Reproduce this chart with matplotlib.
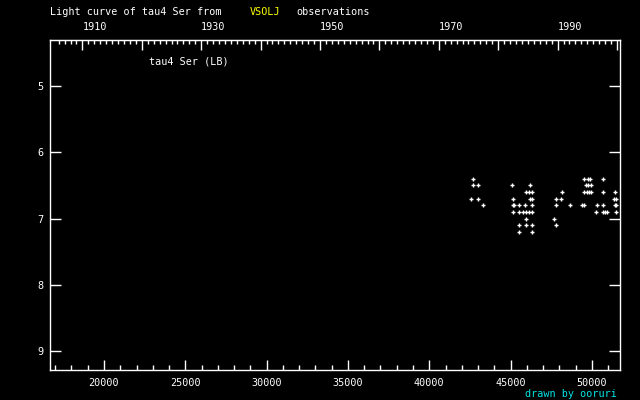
import matplotlib
matplotlib.use("Agg")
import matplotlib.pyplot as plt

# ------------------------------------------------------------
# Observations of tau4 Ser (JD - 2400000, visual magnitude)
# ------------------------------------------------------------
jd = [
    42705, 49529, 49775, 49898, 50698,
    42705, 43012, 45102, 46209, 49652, 49775, 49960,
    45963, 46129, 46332, 48177, 49529, 49695, 49818, 49960, 50698, 51436,
    42582, 43012, 45164, 46209, 46332, 47808, 48115, 51374, 51497,
    43320, 45164, 45225, 45533, 45902, 46332, 47808, 48668, 49406, 49529,
    50329, 50698, 51436, 51497,
    45164, 45533, 45779, 45963, 46129, 46332, 50267, 50698, 50821, 50944, 51497,
    45963, 47685,
    45533, 45963, 46332, 47808,
    45533, 46332,
]
mag = (
    [6.4] * 5
    + [6.5] * 7
    + [6.6] * 10
    + [6.7] * 9
    + [6.8] * 14
    + [6.9] * 11
    + [7.0] * 2
    + [7.1] * 4
    + [7.2] * 2
)

x_ticks = [20000, 25000, 30000, 35000, 40000, 45000, 50000]
y_ticks = [5, 6, 7, 8, 9]
year_ticks = list(range(1910, 2001, 10))
year_labels = ["1910", "", "1930", "", "1950", "", "1970", "", "1990", ""]

star = "tau4 Ser"
FONT = "DejaVu Sans Mono"
FS = 7.3


def jd_to_year(x):
    return 2000.0 + (x - 51545.0) / 365.25


def year_to_jd(y):
    return 51545.0 + (y - 2000.0) * 365.25


fig = plt.figure(figsize=(6.4, 4.0), dpi=100, facecolor="black")
ax = fig.add_axes([50 / 640, 30 / 400, 570 / 640, 330 / 400])
ax.set_facecolor("black")

ax.plot(jd, mag, "+", color="white", markersize=3.5, markeredgewidth=1.0)

ax.set_xlim(16680, 51730)
ax.set_ylim(9.29, 4.30)

for s in ax.spines.values():
    s.set_color("white")
    s.set_linewidth(1.0)

ax.set_xticks(x_ticks)
ax.set_xticks(range(17000, 52000, 1000), minor=True)
ax.set_xticklabels([str(v) for v in x_ticks], fontfamily=FONT, fontsize=FS)
ax.set_yticks(y_ticks)
ax.set_yticklabels([str(v) for v in y_ticks], fontfamily=FONT, fontsize=FS)
ax.tick_params(axis="x", which="major", direction="in", length=7, width=1,
               color="white", labelcolor="white", pad=6, top=False)
ax.tick_params(axis="x", which="minor", direction="in", length=3.5, width=1,
               color="white", top=False)
ax.tick_params(axis="y", which="major", direction="in", length=8, width=1,
               color="white", labelcolor="white", pad=5, right=True)

# top axis in calendar years
sec = ax.secondary_xaxis("top", functions=(jd_to_year, year_to_jd))
sec.spines["top"].set_color("white")
sec.set_xticks(year_ticks)
sec.set_xticklabels(year_labels, fontfamily=FONT, fontsize=FS)
sec.set_xticks(range(1906, 2001), minor=True)
sec.tick_params(axis="x", which="major", direction="in", length=7, width=1,
                color="white", labelcolor="white", pad=6)
sec.tick_params(axis="x", which="minor", direction="in", length=3, width=1,
                color="white")
for lab in sec.get_xticklabels():
    lab.set_horizontalalignment("left")

ax.text(149 / 640, 1 - 61 / 400, f"{star} (LB)", transform=fig.transFigure,
        color="white", fontfamily=FONT, fontsize=FS, va="center")

fig.text(50 / 640, 1 - 12 / 400, f"Light curve of {star} from",
         color="white", fontfamily=FONT, fontsize=FS, va="center")
fig.text(250 / 640, 1 - 12 / 400, "VSOLJ", color="yellow",
         fontfamily=FONT, fontsize=FS, va="center")
fig.text(296 / 640, 1 - 12 / 400, "observations", color="white",
         fontfamily=FONT, fontsize=FS, va="center")
fig.text(617 / 640, 1 - 394 / 400, "drawn by ooruri", color="#00e5e5",
         fontfamily=FONT, fontsize=FS, va="center", ha="right")

fig.savefig("out.png", dpi=100, facecolor="black")
